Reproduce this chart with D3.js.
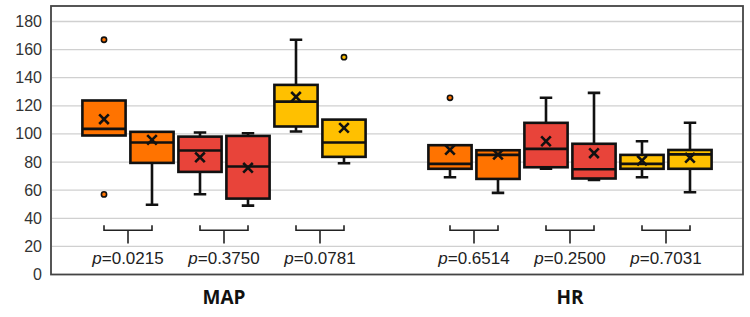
<!DOCTYPE html>
<html>
<head>
<meta charset="utf-8">
<script src="https://cdn.jsdelivr.net/npm/d3@7"></script>
<style>
  body { margin: 0; background: #fff; }
  svg { display: block; }
</style>
</head>
<body>
<div class="chart"></div>
<script>
// categories and the 6 series drawn in each one
var categories = ['MAP', 'HR'];
var seriesColors = ['#ff7300', '#ff7300', '#e8443a', '#e8443a', '#ffc000', '#ffc000'];

// box stats, [category][series]
var mins = [
  [98.9, 49.6, 57.1, 49.0, 101.7, 79.2],
  [69.2, 58.1, 75.2, 67.3, 69.2, 58.5]
];
var q1s = [
  [98.9, 79.4, 73.0, 54.0, 105.3, 83.7],
  [75.2, 68.0, 76.3, 68.3, 75.2, 75.2]
];
var medians = [
  [103.6, 93.9, 88.2, 76.8, 123.0, 93.9],
  [78.7, 85.1, 89.4, 74.9, 78.7, 85.5]
];
var q3s = [
  [123.8, 101.5, 98.1, 98.6, 134.9, 110.2],
  [92.0, 88.4, 107.9, 93.0, 85.1, 88.6]
];
var maxs = [
  [123.8, 101.5, 101.0, 100.5, 167.0, 110.2],
  [92.0, 88.4, 125.7, 129.2, 94.8, 108.0]
];
var means = [
  [110.5, 95.8, 83.4, 75.9, 126.4, 104.3],
  [88.7, 85.3, 94.8, 86.3, 81.1, 83.0]
];
var outliers = [
  [[167, 57], [], [], [], [], [154.6]],
  [[125.7], [], [], [], [], []]
];

// p values for the series pairs (0,1), (2,3), (4,5)
var pValues = [
  ['0.0215', '0.3750', '0.0781'],
  ['0.6514', '0.2500', '0.7031']
];
var yTicks = [0, 20, 40, 60, 80, 100, 120, 140, 160, 180];

var width = 750, height = 317;
var plotLeft = 51, plotRight = 743, plotTop = 6;

var svg = d3.select('.chart')
    .append('svg')
    .attr('width', width)
    .attr('height', height);

var y = d3.scaleLinear().domain([0, 180]).range([274.5, 21.5]);

var x0 = d3.scaleBand().domain(categories).range([plotLeft, plotRight]);
var x1 = d3.scaleBand().domain(d3.range(6))
    .range([29, x0.bandwidth() - 29])
    .paddingInner(0.1).paddingOuter(0.05);

// gridlines
svg.append('g')
    .selectAll('line')
    .data(yTicks.slice(1))
    .enter()
    .append('line')
    .attr('x1', plotLeft + 1)
    .attr('x2', plotRight - 1)
    .attr('y1', function (d) { return y(d); })
    .attr('y2', function (d) { return y(d); })
    .attr('stroke', '#d0d0d0')
    .attr('stroke-width', 1.3);

// tick labels
svg.append('g')
    .selectAll('text')
    .data(yTicks)
    .enter()
    .append('text')
    .attr('x', 42)
    .attr('y', function (d) { return y(d) + 5.5; })
    .attr('text-anchor', 'end')
    .style('font-family', '"Liberation Sans", Arial, sans-serif')
    .style('font-size', '16px')
    .attr('fill', '#333')
    .text(function (d) { return d; });

// frame
svg.append('rect')
    .attr('x', plotLeft)
    .attr('y', plotTop)
    .attr('width', plotRight - plotLeft)
    .attr('height', y(0) - plotTop)
    .attr('fill', 'none')
    .attr('stroke', '#444')
    .attr('stroke-width', 1.8);

var boxes = [];
categories.forEach(function (c, ci) {
  for (var si = 0; si < 6; si++) {
    boxes.push({
      cat: c, s: si,
      min: mins[ci][si], q1: q1s[ci][si], med: medians[ci][si],
      q3: q3s[ci][si], max: maxs[ci][si], mean: means[ci][si],
      out: outliers[ci][si]
    });
  }
});

function cx(d) { return x0(d.cat) + x1(d.s) + x1.bandwidth() / 2; }
var capW = 12.5;

var g = svg.append('g')
    .selectAll('g')
    .data(boxes)
    .enter()
    .append('g');

// whiskers
g.append('path')
    .attr('d', function (d) {
      var c = cx(d), p = '';
      if (d.max > d.q3) p += 'M' + c + ',' + y(d.q3) + 'V' + y(d.max) + 'M' + (c - capW / 2) + ',' + y(d.max) + 'H' + (c + capW / 2);
      if (d.min < d.q1) p += 'M' + c + ',' + y(d.q1) + 'V' + y(d.min) + 'M' + (c - capW / 2) + ',' + y(d.min) + 'H' + (c + capW / 2);
      return p;
    })
    .attr('stroke', '#111')
    .attr('stroke-width', 2.6)
    .attr('fill', 'none');

g.append('rect')
    .attr('x', function (d) { return cx(d) - x1.bandwidth() / 2; })
    .attr('y', function (d) { return y(d.q3); })
    .attr('width', x1.bandwidth())
    .attr('height', function (d) { return y(d.q1) - y(d.q3); })
    .attr('fill', function (d) { return seriesColors[d.s]; })
    .attr('stroke', '#111')
    .attr('stroke-width', 2.6);

g.append('line')
    .attr('x1', function (d) { return cx(d) - x1.bandwidth() / 2; })
    .attr('x2', function (d) { return cx(d) + x1.bandwidth() / 2; })
    .attr('y1', function (d) { return y(d.med); })
    .attr('y2', function (d) { return y(d.med); })
    .attr('stroke', '#111')
    .attr('stroke-width', 2.6);

// mean marker
var m = 4.8;
g.append('path')
    .attr('d', function (d) {
      var c = cx(d), v = y(d.mean);
      return 'M' + (c - m) + ',' + (v - m) + 'L' + (c + m) + ',' + (v + m) +
             'M' + (c - m) + ',' + (v + m) + 'L' + (c + m) + ',' + (v - m);
    })
    .attr('stroke', '#111')
    .attr('stroke-width', 2.6)
    .attr('fill', 'none');

// outlier dots
g.selectAll('circle')
    .data(function (d) { return d.out.map(function (v) { return {v: v, b: d}; }); })
    .enter()
    .append('circle')
    .attr('cx', function (d) { return cx(d.b); })
    .attr('cy', function (d) { return y(d.v); })
    .attr('r', 2.6)
    .attr('fill', function (d) { return seriesColors[d.b.s]; })
    .attr('stroke', '#111')
    .attr('stroke-width', 1.6);

// brackets with p values
var pairs = [];
categories.forEach(function (c, ci) {
  pValues[ci].forEach(function (p, pi) {
    pairs.push({cat: c, a: pi * 2, b: pi * 2 + 1, p: p});
  });
});

var bg = svg.append('g')
    .selectAll('g')
    .data(pairs)
    .enter()
    .append('g');

bg.append('path')
    .attr('d', function (d) {
      var xa = x0(d.cat) + x1(d.a) + x1.bandwidth() / 2;
      var xb = x0(d.cat) + x1(d.b) + x1.bandwidth() / 2;
      var xm = (xa + xb) / 2;
      return 'M' + xa + ',' + y(35) + 'V' + y(31.5) + 'H' + xb + 'V' + y(35) +
             'M' + xm + ',' + y(31.5) + 'V' + y(22);
    })
    .attr('stroke', '#222')
    .attr('stroke-width', 1.6)
    .attr('fill', 'none');

var pt = bg.append('text')
    .attr('x', function (d) {
      return x0(d.cat) + (x1(d.a) + x1(d.b)) / 2 + x1.bandwidth() / 2;
    })
    .attr('y', 263.5)
    .attr('text-anchor', 'middle')
    .style('font-family', '"Liberation Sans", Arial, sans-serif')
    .style('font-size', '17px')
    .attr('fill', '#222');
pt.append('tspan').style('font-style', 'italic').text('p');
pt.append('tspan').text(function (d) { return '=' + d.p; });

// category labels
svg.append('g')
    .selectAll('text')
    .data(categories)
    .enter()
    .append('text')
    .attr('x', function (d) { return x0(d) + x0.bandwidth() / 2; })
    .attr('y', 304)
    .attr('text-anchor', 'middle')
    .style('font-family', '"Open Sans", sans-serif')
    .style('font-weight', 'bold')
    .style('font-size', '19px')
    .attr('fill', '#111')
    .text(function (d) { return d; });
</script>
</body>
</html>
